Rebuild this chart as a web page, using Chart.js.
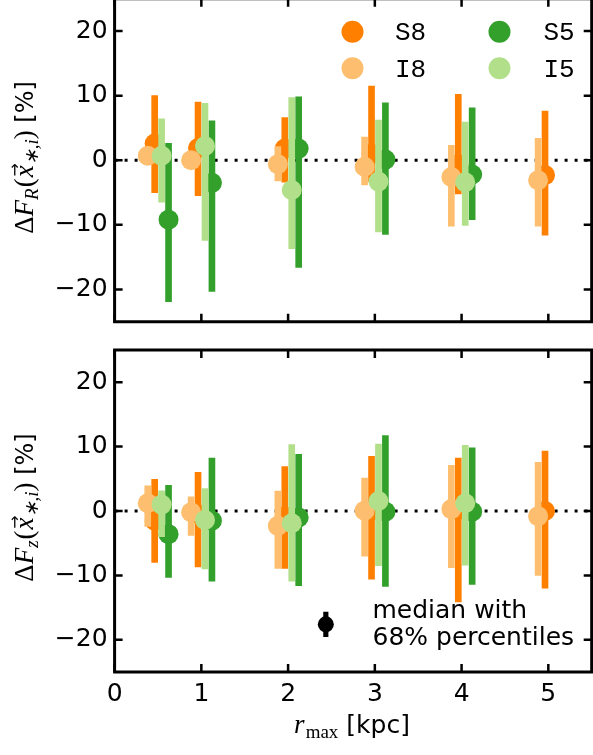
<!DOCTYPE html>
<html><head><meta charset="utf-8">
<script src="https://cdn.jsdelivr.net/npm/chart.js@4.4.0/dist/chart.umd.min.js"></script>
<style>
html,body{margin:0;padding:0;background:#fff;overflow:hidden;}
body{width:593px;height:755px;position:relative;}
canvas{position:absolute;left:0;}
#top{top:-10px;}
#bot{top:340px;}
</style></head><body>
<canvas id="top" width="593" height="342"></canvas>
<canvas id="bot" width="593" height="415"></canvas>
<script>
// ---------- data ----------
const rmax = [0.5, 1, 2, 3, 4, 5];
const xTicks = [0, 1, 2, 3, 4, 5];
const yTicks = [-20, -10, 0, 10, 20];
const seriesNames = ['S8', 'I8', 'S5', 'I5'];

// top panel: Delta F_R  (median, lower 16%, upper 84%)
const S8_R    = [2.6, 1.9, 1.8, 1.0, -0.6, -2.3];
const S8_R_lo = [-5.0, -5.5, -3.4, -3.3, -5.2, -11.6];
const S8_R_hi = [10.0, 9.0, 6.6, 11.5, 10.2, 7.6];
const I8_R    = [0.7, 0.0, -0.6, -1.0, -2.6, -3.1];
const I8_R_lo = [-0.5, -1.0, -3.2, -3.8, -10.2, -10.2];
const I8_R_hi = [1.8, 1.0, 2.1, 3.6, 2.3, 3.4];
const S5_R    = [-9.2, -3.5, 1.8, 0.1, -2.2, null];
const S5_R_lo = [-21.9, -20.3, -16.6, -11.5, -9.2, null];
const S5_R_hi = [2.6, 6.1, 9.8, 8.9, 8.1, null];
const I5_R    = [0.7, 2.2, -4.6, -3.3, -3.4, null];
const I5_R_lo = [-6.5, -12.4, -13.7, -11.1, -10.1, null];
const I5_R_hi = [6.4, 8.8, 9.7, 6.2, 5.9, null];

// bottom panel: Delta F_z
const S8_z    = [-1.5, -0.5, -0.8, 0.05, 0.15, 0.0];
const S8_z_lo = [-8.0, -8.7, -8.9, -10.6, -14.1, -12.0];
const S8_z_hi = [4.9, 6.0, 6.9, 8.5, 8.2, 9.3];
const I8_z    = [1.2, -0.2, -2.3, 0.05, 0.3, -0.8];
const I8_z_lo = [-2.4, -3.8, -8.9, -7.0, -8.8, -10.0];
const I8_z_hi = [3.9, 2.2, 3.1, 5.1, 7.1, 7.55];
const S5_z    = [-3.6, -1.5, -1.0, -0.1, -0.1, null];
const S5_z_lo = [-10.3, -10.9, -11.6, -11.7, -11.4, null];
const S5_z_hi = [4.0, 8.2, 8.8, 11.7, 9.8, null];
const I5_z    = [1.0, -1.4, -1.9, 1.55, 1.2, null];
const I5_z_lo = [-4.0, -9.0, -10.9, -8.5, -8.4, null];
const I5_z_hi = [3.15, 3.5, 10.3, 10.4, 10.2, null];

// example marker "median with 68% percentiles"
const exampleX = [2.435];
const exampleY = [-17.6];
const exampleLo = [-19.5];
const exampleHi = [-15.7];

// ---------- styling ----------
const X_MIN = 0, X_MAX = 5.5, Y_MIN = -25, Y_MAX = 25;
const OFF = {I8: -0.118, S8: -0.038, I5: 0.042, S5: 0.122};
const COL = {S8: '#ff7f00', I8: '#fdbf6f', S5: '#33a02c', I5: '#b2df8a'};
const SANS = '"DejaVu Sans"';
const SERIF = '"Liberation Serif"';

function datasetsFor(panel) {
  const ds = [];
  ds.push({type: 'line', data: [{x: X_MIN, y: 0}, {x: X_MAX, y: 0}], borderColor: '#000',
    borderWidth: 3, borderDash: [3, 7], pointRadius: 0, fill: false, order: 100});
  let ord = 50;
  seriesNames.forEach(k => {
    const [med, lo, hi] = panel[k];
    const bars = [], pts = [];
    rmax.forEach((r, i) => {
      if (med[i] == null) return;
      bars.push({x: r + OFF[k], y: [lo[i], hi[i]]});
      pts.push({x: r + OFF[k], y: med[i]});
    });
    ds.push({type: 'bar', data: bars, backgroundColor: COL[k], borderWidth: 0,
      barThickness: 6, grouped: false, order: ord--});
    ds.push({type: 'scatter', data: pts, backgroundColor: COL[k], pointBackgroundColor: COL[k],
      pointRadius: 10, pointHoverRadius: 10, pointBorderWidth: 0, showLine: false, order: ord--});
  });
  return ds;
}

const framePlugin = {
  id: 'frame',
  afterDatasetsDraw(chart) {
    const {ctx, chartArea: a, scales: {x, y}} = chart;
    ctx.save();
    ctx.strokeStyle = '#000';
    ctx.lineWidth = 2.5;
    const L = 8;
    ctx.beginPath();
    x.ticks.forEach(t => {
      const px = x.getPixelForValue(t.value);
      ctx.moveTo(px, a.bottom); ctx.lineTo(px, a.bottom - L);
      ctx.moveTo(px, a.top); ctx.lineTo(px, a.top + L);
    });
    y.ticks.forEach(t => {
      const py = y.getPixelForValue(t.value);
      ctx.moveTo(a.left, py); ctx.lineTo(a.left + L, py);
      ctx.moveTo(a.right, py); ctx.lineTo(a.right - L, py);
    });
    ctx.stroke();
    ctx.lineWidth = 3;
    ctx.strokeRect(a.left, a.top, a.right - a.left, a.bottom - a.top);
    ctx.restore();
  }
};

function drawPieces(ctx, pieces, x0, y0) {
  let w = 0;
  pieces.forEach(p => { ctx.font = p.f; p.w = ctx.measureText(p.t).width; w += p.w + (p.kern || 0); });
  let x = x0 - w / 2;
  ctx.textBaseline = 'alphabetic';
  ctx.textAlign = 'left';
  pieces.forEach(p => {
    ctx.font = p.f;
    ctx.fillText(p.t, x, y0 + (p.dy || 0));
    if (p.arrow) {
      ctx.font = p.arrow;
      ctx.textAlign = 'center';
      ctx.fillText('\u2192', x + p.w / 2 + 1.5, y0 - 13);
      ctx.textAlign = 'left';
    }
    x += p.w + (p.kern || 0);
  });
}

function yLabelPieces(sub) {
  const MS = 27, SS = 19;
  return [
    {t: '\u0394', f: `${MS}px ${SERIF}`},
    {t: 'F', f: `italic ${MS}px ${SERIF}`},
    {t: sub, f: `italic ${SS}px ${SERIF}`, dy: 5, kern: 1},
    {t: '(', f: `${MS}px ${SERIF}`, kern: 1},
    {t: 'x', f: `italic ${MS}px ${SERIF}`, arrow: `16px ${SANS}`},
    {t: '\u2217,i', f: `italic ${SS}px ${SERIF}`, dy: 5},
    {t: ')', f: `${MS}px ${SERIF}`},
    {t: ' [%]', f: `24px ${SANS}`}
  ];
}

function yLabelPlugin(sub, cy) {
  return {
    id: 'ylab',
    afterDraw(chart) {
      const ctx = chart.ctx;
      ctx.save();
      ctx.fillStyle = '#000';
      ctx.translate(33, cy);
      ctx.rotate(-Math.PI / 2);
      drawPieces(ctx, yLabelPieces(sub), 0, 0);
      ctx.restore();
    }
  };
}

const legendPlugin = {
  id: 'leg',
  afterDraw(chart) {
    const ctx = chart.ctx;
    const items = [
      {k: 'S8', cx: 352.5, tx: 395, cy: 41.7},
      {k: 'I8', cx: 352.5, tx: 395, cy: 78.3},
      {k: 'S5', cx: 499.5, tx: 543.5, cy: 41.7},
      {k: 'I5', cx: 499.5, tx: 543.5, cy: 78.3}
    ];
    ctx.save();
    items.forEach(it => {
      ctx.fillStyle = COL[it.k];
      ctx.beginPath(); ctx.arc(it.cx, it.cy, 11, 0, Math.PI * 2); ctx.fill();
      ctx.fillStyle = '#000';
      ctx.font = `26px "Liberation Mono"`;
      ctx.textBaseline = 'alphabetic';
      ctx.textAlign = 'left';
      ctx.fillText(it.k, it.tx, it.cy + 8.3);
    });
    ctx.restore();
  }
};

const bottomTextPlugin = {
  id: 'btext',
  afterDraw(chart) {
    const ctx = chart.ctx;
    ctx.save();
    ctx.fillStyle = '#000';
    ctx.font = `25px ${SANS}`;
    ctx.textAlign = 'left';
    ctx.textBaseline = 'alphabetic';
    ctx.fillText('median with', 372.5, 277.7);
    ctx.fillText('68% percentiles', 372.5, 305);
    drawPieces(ctx, [
      {t: 'r', f: `italic 27px ${SERIF}`, kern: 1},
      {t: 'max', f: `19px ${SERIF}`, dy: 5},
      {t: ' [kpc]', f: `25px ${SANS}`}
    ], 352, 393);
    ctx.restore();
  }
};

function tickFmt(v) { return v < 0 ? '\u2212' + Math.abs(v) : '' + v; }

function zeroPad(s) { s.paddingTop = 0; s.paddingBottom = 0; s.paddingLeft = 0; s.paddingRight = 0; }

function makeChart(id, panel, isBottom) {
  const ds = datasetsFor(panel);
  if (isBottom) {
    ds.push({type: 'bar', data: exampleX.map((x, i) => ({x, y: [exampleLo[i], exampleHi[i]]})),
      backgroundColor: '#000', borderWidth: 0, barThickness: 4.5, grouped: false, order: 1});
    ds.push({type: 'scatter', data: exampleX.map((x, i) => ({x, y: exampleY[i]})),
      backgroundColor: '#000', pointBackgroundColor: '#000', pointRadius: 8, pointHoverRadius: 8,
      pointBorderWidth: 0, showLine: false, order: 0});
  }
  const plugins = [framePlugin, yLabelPlugin(isBottom ? 'z' : 'R', 167.5)];
  plugins.push(isBottom ? bottomTextPlugin : legendPlugin);
  return new Chart(document.getElementById(id), {
    type: 'scatter',
    data: {datasets: ds},
    plugins,
    options: {
      responsive: false, animation: false, devicePixelRatio: 1, events: [],
      layout: {autoPadding: false,
               padding: isBottom ? {top: 10, bottom: 0, left: 0, right: 1.3}
                                 : {top: 8.75, bottom: 10.25, left: 0, right: 1.3}},
      plugins: {legend: {display: false}, tooltip: {enabled: false}},
      scales: {
        x: {
          type: 'linear', min: X_MIN, max: X_MAX, offset: false,
          afterBuildTicks: s => { s.ticks = xTicks.map(v => ({value: v})); },
          afterFit: s => { s.height = isBottom ? 83 : 0; zeroPad(s); },
          grid: {display: false, drawTicks: false, offset: false}, border: {display: false},
          ticks: {display: isBottom, font: {family: 'DejaVu Sans', size: 25}, color: '#000',
                  padding: 7, maxRotation: 0, callback: tickFmt}
        },
        y: {
          type: 'linear', min: Y_MIN, max: Y_MAX, offset: false,
          afterBuildTicks: s => { s.ticks = yTicks.map(v => ({value: v})); },
          afterFit: s => { s.width = 114.6; zeroPad(s); },
          grid: {display: false, drawTicks: false}, border: {display: false},
          ticks: {font: {family: 'DejaVu Sans', size: 25}, color: '#000', padding: 7, callback: tickFmt}
        }
      }
    }
  });
}

makeChart('top', {
  S8: [S8_R, S8_R_lo, S8_R_hi], I8: [I8_R, I8_R_lo, I8_R_hi],
  S5: [S5_R, S5_R_lo, S5_R_hi], I5: [I5_R, I5_R_lo, I5_R_hi]
}, false);
makeChart('bot', {
  S8: [S8_z, S8_z_lo, S8_z_hi], I8: [I8_z, I8_z_lo, I8_z_hi],
  S5: [S5_z, S5_z_lo, S5_z_hi], I5: [I5_z, I5_z_lo, I5_z_hi]
}, true);
</script></body></html>
